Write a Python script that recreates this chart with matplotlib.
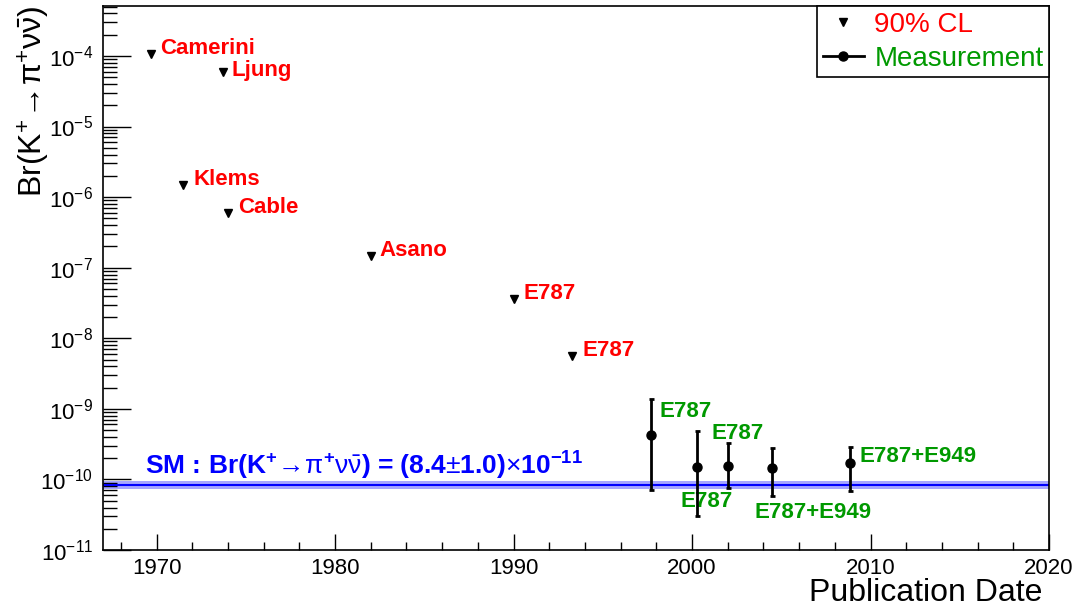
import matplotlib
matplotlib.use('Agg')
import matplotlib.pyplot as plt
from matplotlib.ticker import LogLocator, MultipleLocator, NullFormatter
from matplotlib.lines import Line2D

plt.rcParams['font.family'] = ['Liberation Sans', 'DejaVu Sans']
plt.rcParams['mathtext.fontset'] = 'custom'
plt.rcParams['mathtext.rm'] = 'Liberation Sans'
plt.rcParams['mathtext.it'] = 'Liberation Sans:italic'
plt.rcParams['mathtext.bf'] = 'Liberation Sans:bold'
plt.rcParams['mathtext.sf'] = 'Liberation Sans'

# ---- data ----
limit_names = ['Camerini', 'Ljung', 'Klems', 'Cable', 'Asano', 'E787', 'E787']
limit_years = [1969.7, 1973.7, 1971.5, 1974.0, 1982.0, 1990.0, 1993.3]
limit_values = [1.07e-4, 5.9e-5, 1.48e-6, 5.9e-7, 1.46e-7, 3.57e-8, 5.56e-9]
limit_label_offsets = [(6.5, 0), (6.5, -3), (7, 0), (7, 0), (6.5, 0), (7, 0), (7, 0)]

meas_names = ['E787', 'E787', 'E787', 'E787+E949', 'E787+E949']
meas_years = [1997.7, 2000.3, 2002.0, 2004.5, 2008.85]
meas_values = [4.2e-10, 1.5e-10, 1.57e-10, 1.47e-10, 1.73e-10]
meas_err_up = [9.7e-10, 3.4e-10, 1.75e-10, 1.30e-10, 1.15e-10]
meas_err_down = [3.5e-10, 1.2e-10, 0.82e-10, 0.89e-10, 1.05e-10]
meas_label_offsets = [(6.5, 13), (-12, -29), (-12, 19.5), (-13, -36), (6.5, 0.7)]

sm_value = 8.4e-11
sm_error = 1.0e-11

x_range = (1967, 2020)
y_range = (1e-11, 5.1e-4)

RED = '#ff0000'
GREEN = '#009900'
BLUE = '#0000ff'

fig = plt.figure(figsize=(10.92, 6.04), dpi=100)
ax = fig.add_axes([103/1092, 1-550/604, 946/1092, 544/604])

ax.set_yscale('log')
ax.set_xlim(*x_range)
ax.set_ylim(*y_range)

# SM band
ax.axhspan(sm_value - sm_error, sm_value + sm_error, color='#a6a6ff', lw=0, zorder=1)
ax.axhline(sm_value, color=BLUE, lw=1.5, zorder=2)

# limits
ax.plot(limit_years, limit_values, ls='none', marker='v', color='black', ms=6, zorder=3)
for name, x, y, off in zip(limit_names, limit_years, limit_values, limit_label_offsets):
    ax.annotate(name, (x, y), xytext=off, textcoords='offset points',
                color=RED, fontweight='bold', fontsize=16, ha='left', va='baseline')

# measurements
ax.errorbar(meas_years, meas_values, yerr=[meas_err_down, meas_err_up], fmt='o',
            color='black', ms=6.5, lw=2, capsize=1.8, capthick=2, zorder=4)
for name, x, y, off in zip(meas_names, meas_years, meas_values, meas_label_offsets):
    ax.annotate(name, (x, y), xytext=off, textcoords='offset points',
                color=GREEN, fontweight='bold', fontsize=16, ha='left', va='baseline')

# SM text
sm_text = (r"SM : Br(K$^{\mathbf{+}}\!\rightarrow\!\mathrm{\pi}^{\mathbf{+}}\mathrm{\nu\bar{\nu}}$)"
           r" = (8.4$\pm$1.0)$\times$10$^{\mathbf{-11}}$")
ax.annotate(sm_text, xy=(0.0444, sm_value), xycoords=('axes fraction', 'data'),
            xytext=(0, 7), textcoords='offset points', color=BLUE, fontweight='bold',
            fontsize=19, ha='left', va='baseline')

# axes styling
ax.xaxis.set_major_locator(MultipleLocator(10))
ax.xaxis.set_minor_locator(MultipleLocator(2))
ax.yaxis.set_major_locator(LogLocator(base=10, numticks=20))
ax.yaxis.set_minor_locator(LogLocator(base=10, subs=range(2, 10), numticks=20))
ax.yaxis.set_minor_formatter(NullFormatter())

ax.tick_params(axis='y', which='major', direction='in', length=20, width=1, labelsize=16, pad=7,
               right=False)
ax.tick_params(axis='y', which='minor', direction='in', length=10, width=1, right=False)
ax.tick_params(axis='x', which='major', direction='in', length=11.5, width=1, labelsize=16, pad=6,
               top=False)
ax.tick_params(axis='x', which='minor', direction='in', length=5.8, width=1, top=False)
for s in ax.spines.values():
    s.set_linewidth(1.2)

ax.set_xlabel('Publication Date', fontsize=23, loc='right')
ax.xaxis.set_label_coords(0.9926, -0.052)
ax.set_ylabel(r"Br(K$^{+}\!\rightarrow\!\mathrm{\pi}^{+}\mathrm{\nu\bar{\nu}}$)", fontsize=23,
              loc='top', labelpad=-8)

# legend
handles = [Line2D([], [], ls='none', marker='v', color='black', ms=6),
           Line2D([], [], ls='-', lw=2, marker='o', color='black', ms=6.5)]
leg = ax.legend(handles, ['90% CL', 'Measurement'], loc='upper right', borderaxespad=0,
                fontsize=20, fancybox=False, framealpha=1, edgecolor='black',
                handlelength=1.5, handletextpad=0.36, borderpad=0.2, labelspacing=0.3)
leg.get_frame().set_linewidth(1.2)
leg.get_texts()[0].set_color(RED)
leg.get_texts()[1].set_color(GREEN)

fig.savefig('out.png', dpi=100)
